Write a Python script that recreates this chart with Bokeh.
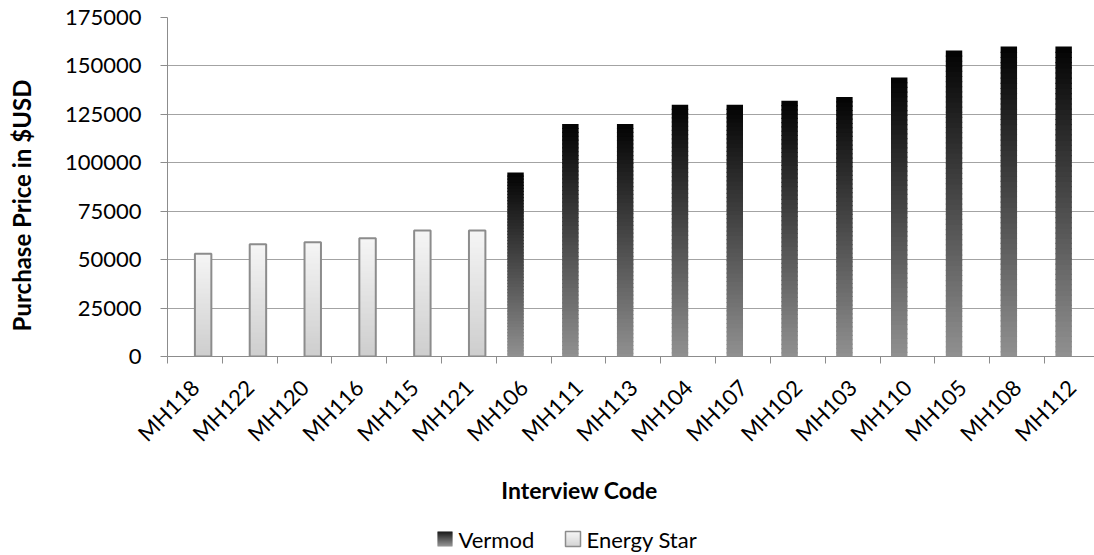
import math
from bokeh.plotting import figure
from bokeh.layouts import column, row
from bokeh.models import FixedTicker, NumeralTickFormatter, Range1d
from bokeh.core.properties import value
from bokeh.embed import file_html
from bokeh.resources import INLINE

# Purchase price per interview, ordered by price
codes = ["MH118", "MH122", "MH120", "MH116", "MH115", "MH121", "MH106", "MH111",
         "MH113", "MH104", "MH107", "MH102", "MH103", "MH110", "MH105", "MH108", "MH112"]
series = ["Energy Star"] * 6 + ["Vermod"] * 11
prices = [53000, 58000, 59000, 61000, 65000, 65000, 95000, 120000,
          120000, 130000, 130000, 132000, 134000, 144000, 158000, 160000, 160000]
y_ticks = [0, 25000, 50000, 75000, 100000, 125000, 150000, 175000]
legend_names = ["Vermod", "Energy Star"]

FONT = "Lato"
N_SLICES = 60
BAR_W = 0.30
# slot offset inside each category (clustered columns: Vermod left, Energy Star right)
OFFSET = {"Vermod": 0.35, "Energy Star": 0.65}
# gradient end colours (top, bottom)
GRAD = {"Vermod": ((3, 3, 3), (145, 145, 145)),
        "Energy Star": ((245, 245, 245), (205, 205, 205))}
EDGE = "#8c8c8c"

W, H = 1094, 555
STRIP_W = 45          # column holding the vertical axis title
MAIN_H = 465          # height of the chart row
FRAME_LEFT, FRAME_TOP, FRAME_BOTTOM = 167, 17, 356


def mix(c0, c1, t):
    return "#%02x%02x%02x" % tuple(round(a + (b - a) * t) for a, b in zip(c0, c1))


def gradient_slices(x0, x1, y0, y1, top_c, bot_c, n, pad):
    """Split a rectangle into n horizontal slices shaded from bot_c to top_c."""
    L, R, B, T, C = [], [], [], [], []
    for k in range(n):
        b = max(y0, y0 + (y1 - y0) * k / n - pad)
        t = y0 + (y1 - y0) * (k + 1) / n
        L.append(x0)
        R.append(x1)
        B.append(b)
        T.append(t)
        C.append(mix(bot_c, top_c, (k + 0.5) / n))
    return L, R, B, T, C


def bare(fig):
    fig.outline_line_color = None
    fig.grid.visible = False
    return fig


# ---- main chart -------------------------------------------------------------
cat_px = 54.81
x_end = (W - FRAME_LEFT) / cat_px
p = figure(width=W - STRIP_W, height=MAIN_H, output_backend="svg",
           toolbar_location=None,
           x_range=Range1d(0, x_end), y_range=Range1d(0, 175000),
           min_border_left=FRAME_LEFT - STRIP_W, min_border_right=0,
           min_border_top=FRAME_TOP, min_border_bottom=MAIN_H - FRAME_BOTTOM)
p.outline_line_color = None

L, R, B, T, C = [], [], [], [], []
for i, (s, v) in enumerate(zip(series, prices)):
    xc = i + OFFSET[s]
    l, r, b, t, c = gradient_slices(xc - BAR_W / 2, xc + BAR_W / 2, 0, v,
                                    GRAD[s][0], GRAD[s][1], N_SLICES, 600)
    L += l; R += r; B += b; T += t; C += c
p.quad(left=L, right=R, bottom=B, top=T, fill_color=C, line_color=None)

# outline around Energy Star columns
es_x = [i + OFFSET[s] for i, s in enumerate(series) if s == "Energy Star"]
es_v = [v for s, v in zip(series, prices) if s == "Energy Star"]
p.vbar(x=es_x, top=es_v, bottom=0, width=BAR_W, fill_color=None,
       line_color=EDGE, line_width=2)

xa = p.xaxis[0]
centers = [i + 0.5 for i in range(len(codes))]
xa.ticker = FixedTicker(ticks=centers, minor_ticks=list(range(len(codes) + 1)))
xa.major_label_overrides = {c: n for c, n in zip(centers, codes)}
xa.major_label_orientation = math.pi / 4
xa.major_tick_line_color = None
xa.minor_tick_line_color = EDGE
xa.minor_tick_in = 0
xa.minor_tick_out = 7
xa.axis_line_color = EDGE
xa.major_label_text_font = FONT
xa.major_label_text_font_size = "22px"
xa.major_label_text_color = "black"
xa.major_label_standoff = 20

ya = p.yaxis[0]
ya.ticker = FixedTicker(ticks=y_ticks)
ya.formatter = NumeralTickFormatter(format="0")
ya.minor_tick_line_color = None
ya.major_tick_in = 0
ya.major_tick_out = 7
ya.major_tick_line_color = EDGE
ya.axis_line_color = EDGE
ya.major_label_text_font = FONT
ya.major_label_text_font_size = "22px"
ya.major_label_text_color = "black"
ya.major_label_standoff = 19

p.xgrid.grid_line_color = None
p.ygrid.grid_line_color = "#a3a3a3"
p.ygrid.grid_line_width = 1

# ---- vertical axis title ----------------------------------------------------
# same vertical borders as the chart, so its frame spans the plot area;
# y data is the negated page row.
ys = bare(figure(width=STRIP_W, height=MAIN_H, output_backend="svg",
                 toolbar_location=None, x_range=Range1d(0, STRIP_W),
                 y_range=Range1d(-FRAME_BOTTOM, -FRAME_TOP),
                 x_axis_type=None, y_axis_type=None,
                 min_border_left=0, min_border_right=0,
                 min_border_top=FRAME_TOP, min_border_bottom=MAIN_H - FRAME_BOTTOM))
ys.text(x=[21], y=[-205], text=["Purchase Price in $USD"], angle=math.pi / 2,
        text_font=value(FONT), text_font_style="bold", text_font_size="24px",
        text_color="black", text_align="center", text_baseline="middle")

# ---- horizontal axis title and legend ---------------------------------------
FOOT_H = H - MAIN_H
ft = bare(figure(width=W, height=FOOT_H, output_backend="svg",
                 toolbar_location=None, x_range=Range1d(0, W),
                 y_range=Range1d(0, FOOT_H), x_axis_type=None, y_axis_type=None,
                 min_border=0))


def fy(page_y):
    return H - page_y


ft.text(x=[579], y=[fy(489)], text=["Interview Code"], text_font=value(FONT),
        text_font_style="bold", text_font_size="23px", text_color="black",
        text_align="center", text_baseline="middle")

sw_x = [437, 565]
sw_top, sw_bot = 531, 546
for name, x0 in zip(legend_names, sw_x):
    l, r, b, t, c = gradient_slices(x0, x0 + 15, fy(sw_bot), fy(sw_top),
                                    GRAD[name][0], GRAD[name][1], 15, 0.3)
    ft.quad(left=l, right=r, bottom=b, top=t, fill_color=c, line_color=None)
    if name == "Energy Star":
        ft.quad(left=[x0], right=[x0 + 15], bottom=[fy(sw_bot)], top=[fy(sw_top)],
                fill_color=None, line_color=EDGE, line_width=1.5)
ft.text(x=[x + 21 for x in sw_x], y=[fy(539)] * 2, text=legend_names,
        text_font=value(FONT), text_font_size="22px", text_color="black",
        text_align="left", text_baseline="middle")

layout = column(row(ys, p, spacing=0), ft, spacing=0)
open("out.html", "w").write(file_html(layout, INLINE))
